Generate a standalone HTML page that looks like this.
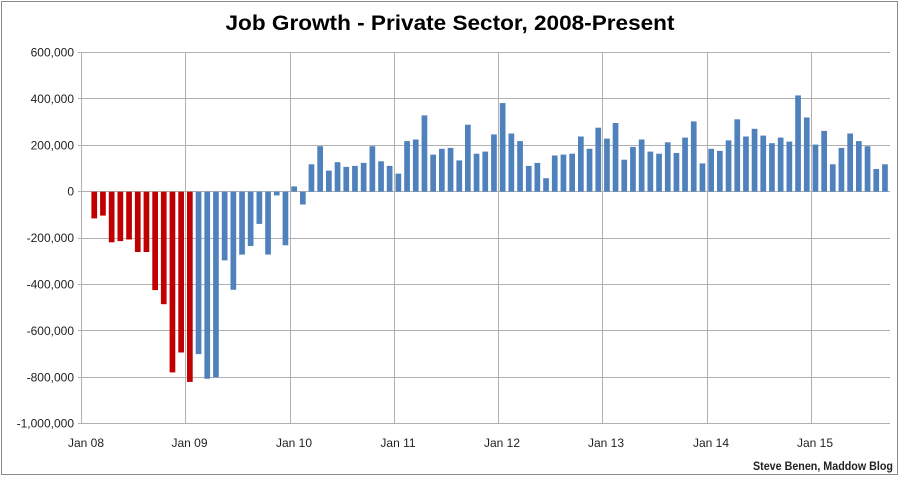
<!DOCTYPE html>
<html><head><meta charset="utf-8"><style>
html,body{margin:0;padding:0;background:#fff;}
svg{display:block;font-family:"Liberation Sans",Arial,sans-serif;}
</style></head><body>
<svg width="900" height="477" viewBox="0 0 900 477" xmlns="http://www.w3.org/2000/svg">
<rect x="1.5" y="1.5" width="896" height="473" fill="#fff" stroke="#8a8a8a" stroke-width="1"/>
<text x="450" y="30" text-anchor="middle" font-size="21" font-weight="bold" fill="#000" textLength="449" lengthAdjust="spacingAndGlyphs">Job Growth - Private Sector, 2008-Present</text>
<g stroke="#b0b0b0" stroke-width="1">
<line x1="78" x2="890" y1="52.5" y2="52.5"/>
<line x1="78" x2="890" y1="98.5" y2="98.5"/>
<line x1="78" x2="890" y1="145.5" y2="145.5"/>
<line x1="78" x2="890" y1="191.5" y2="191.5"/>
<line x1="78" x2="890" y1="238.5" y2="238.5"/>
<line x1="78" x2="890" y1="284.5" y2="284.5"/>
<line x1="78" x2="890" y1="330.5" y2="330.5"/>
<line x1="78" x2="890" y1="377.5" y2="377.5"/>
<line x1="78" x2="890" y1="423.5" y2="423.5"/>
<line x1="81.5" x2="81.5" y1="52.5" y2="424"/>
<line x1="185.5" x2="185.5" y1="52.5" y2="424"/>
<line x1="290.5" x2="290.5" y1="52.5" y2="424"/>
<line x1="394.5" x2="394.5" y1="52.5" y2="424"/>
<line x1="498.5" x2="498.5" y1="52.5" y2="424"/>
<line x1="602.5" x2="602.5" y1="52.5" y2="424"/>
<line x1="707.5" x2="707.5" y1="52.5" y2="424"/>
<line x1="811.5" x2="811.5" y1="52.5" y2="424"/>
</g>
<g font-size="12" fill="#222" text-anchor="end">
<text x="74" y="56.5">600,000</text>
<text x="74" y="102.9">400,000</text>
<text x="74" y="149.3">200,000</text>
<text x="74" y="195.7">0</text>
<text x="74" y="242.1">-200,000</text>
<text x="74" y="288.5">-400,000</text>
<text x="74" y="334.9">-600,000</text>
<text x="74" y="381.3">-800,000</text>
<text x="74" y="427.7">-1,000,000</text>
</g>
<g font-size="12" fill="#222" text-anchor="middle">
<text x="86" y="447">Jan 08</text>
<text x="189.5" y="447">Jan 09</text>
<text x="294" y="447">Jan 10</text>
<text x="398" y="447">Jan 11</text>
<text x="502" y="447">Jan 12</text>
<text x="606" y="447">Jan 13</text>
<text x="711" y="447">Jan 14</text>
<text x="815" y="447">Jan 15</text>
</g>
<g fill="#c00000">
<rect x="91.4" y="191.7" width="5.7" height="26.7"/>
<rect x="100.1" y="191.7" width="5.7" height="23.9"/>
<rect x="108.8" y="191.7" width="5.7" height="50.6"/>
<rect x="117.5" y="191.7" width="5.7" height="49.4"/>
<rect x="126.2" y="191.7" width="5.7" height="47.8"/>
<rect x="134.9" y="191.7" width="5.7" height="60.3"/>
<rect x="143.6" y="191.7" width="5.7" height="60.3"/>
<rect x="152.3" y="191.7" width="5.7" height="98.4"/>
<rect x="160.9" y="191.7" width="5.7" height="112.5"/>
<rect x="169.6" y="191.7" width="5.7" height="180.7"/>
<rect x="178.3" y="191.7" width="5.7" height="160.8"/>
<rect x="187.0" y="191.7" width="5.7" height="190.2"/>
</g>
<g fill="#4f81bd">
<rect x="195.7" y="191.7" width="5.7" height="162.4"/>
<rect x="204.4" y="191.7" width="5.7" height="187.0"/>
<rect x="213.1" y="191.7" width="5.7" height="185.6"/>
<rect x="221.8" y="191.7" width="5.7" height="68.7"/>
<rect x="230.5" y="191.7" width="5.7" height="98.1"/>
<rect x="239.2" y="191.7" width="5.7" height="62.9"/>
<rect x="247.8" y="191.7" width="5.7" height="54.3"/>
<rect x="256.5" y="191.7" width="5.7" height="32.2"/>
<rect x="265.2" y="191.7" width="5.7" height="62.9"/>
<rect x="273.9" y="191.7" width="5.7" height="3.7"/>
<rect x="282.6" y="191.7" width="5.7" height="53.6"/>
<rect x="291.3" y="186.4" width="5.7" height="5.3"/>
<rect x="300.0" y="191.7" width="5.7" height="12.8"/>
<rect x="308.6" y="164.3" width="5.7" height="27.4"/>
<rect x="317.3" y="146.2" width="5.7" height="45.5"/>
<rect x="326.0" y="170.6" width="5.7" height="21.1"/>
<rect x="334.7" y="162.2" width="5.7" height="29.5"/>
<rect x="343.4" y="166.9" width="5.7" height="24.8"/>
<rect x="352.1" y="165.9" width="5.7" height="25.8"/>
<rect x="360.8" y="162.9" width="5.7" height="28.8"/>
<rect x="369.5" y="146.2" width="5.7" height="45.5"/>
<rect x="378.2" y="161.3" width="5.7" height="30.4"/>
<rect x="386.8" y="165.9" width="5.7" height="25.8"/>
<rect x="395.5" y="173.6" width="5.7" height="18.1"/>
<rect x="404.2" y="141.1" width="5.7" height="50.6"/>
<rect x="412.9" y="139.5" width="5.7" height="52.2"/>
<rect x="421.6" y="115.4" width="5.7" height="76.3"/>
<rect x="430.3" y="154.6" width="5.7" height="37.1"/>
<rect x="439.0" y="148.8" width="5.7" height="42.9"/>
<rect x="447.7" y="147.9" width="5.7" height="43.8"/>
<rect x="456.4" y="160.4" width="5.7" height="31.3"/>
<rect x="465.0" y="124.7" width="5.7" height="67.0"/>
<rect x="473.7" y="153.7" width="5.7" height="38.0"/>
<rect x="482.4" y="151.6" width="5.7" height="40.1"/>
<rect x="491.1" y="134.4" width="5.7" height="57.3"/>
<rect x="499.8" y="103.1" width="5.7" height="88.6"/>
<rect x="508.5" y="133.5" width="5.7" height="58.2"/>
<rect x="517.2" y="141.1" width="5.7" height="50.6"/>
<rect x="525.9" y="165.9" width="5.7" height="25.8"/>
<rect x="534.5" y="162.9" width="5.7" height="28.8"/>
<rect x="543.2" y="178.2" width="5.7" height="13.5"/>
<rect x="551.9" y="155.5" width="5.7" height="36.2"/>
<rect x="560.6" y="154.6" width="5.7" height="37.1"/>
<rect x="569.3" y="153.7" width="5.7" height="38.0"/>
<rect x="578.0" y="136.5" width="5.7" height="55.2"/>
<rect x="586.7" y="148.8" width="5.7" height="42.9"/>
<rect x="595.4" y="127.7" width="5.7" height="64.0"/>
<rect x="604.1" y="138.6" width="5.7" height="53.1"/>
<rect x="612.7" y="123.0" width="5.7" height="68.7"/>
<rect x="621.4" y="159.7" width="5.7" height="32.0"/>
<rect x="630.1" y="146.9" width="5.7" height="44.8"/>
<rect x="638.8" y="139.5" width="5.7" height="52.2"/>
<rect x="647.5" y="151.6" width="5.7" height="40.1"/>
<rect x="656.2" y="153.7" width="5.7" height="38.0"/>
<rect x="664.9" y="142.3" width="5.7" height="49.4"/>
<rect x="673.6" y="153.0" width="5.7" height="38.7"/>
<rect x="682.2" y="137.6" width="5.7" height="54.1"/>
<rect x="690.9" y="121.4" width="5.7" height="70.3"/>
<rect x="699.6" y="163.4" width="5.7" height="28.3"/>
<rect x="708.3" y="148.8" width="5.7" height="42.9"/>
<rect x="717.0" y="150.9" width="5.7" height="40.8"/>
<rect x="725.7" y="140.4" width="5.7" height="51.3"/>
<rect x="734.4" y="119.3" width="5.7" height="72.4"/>
<rect x="743.1" y="136.5" width="5.7" height="55.2"/>
<rect x="751.7" y="128.8" width="5.7" height="62.9"/>
<rect x="760.4" y="135.6" width="5.7" height="56.1"/>
<rect x="769.1" y="143.2" width="5.7" height="48.5"/>
<rect x="777.8" y="137.6" width="5.7" height="54.1"/>
<rect x="786.5" y="141.6" width="5.7" height="50.1"/>
<rect x="795.2" y="95.4" width="5.7" height="96.3"/>
<rect x="803.9" y="117.5" width="5.7" height="74.2"/>
<rect x="812.6" y="144.6" width="5.7" height="47.1"/>
<rect x="821.3" y="130.9" width="5.7" height="60.8"/>
<rect x="829.9" y="164.3" width="5.7" height="27.4"/>
<rect x="838.6" y="147.9" width="5.7" height="43.8"/>
<rect x="847.3" y="133.5" width="5.7" height="58.2"/>
<rect x="856.0" y="141.1" width="5.7" height="50.6"/>
<rect x="864.7" y="146.2" width="5.7" height="45.5"/>
<rect x="873.4" y="169.0" width="5.7" height="22.7"/>
<rect x="882.1" y="164.3" width="5.7" height="27.4"/>
</g>
<text x="893" y="470" text-anchor="end" font-size="11.5" font-weight="bold" fill="#222" textLength="140" lengthAdjust="spacingAndGlyphs">Steve Benen, Maddow Blog</text>
</svg>
</body></html>
